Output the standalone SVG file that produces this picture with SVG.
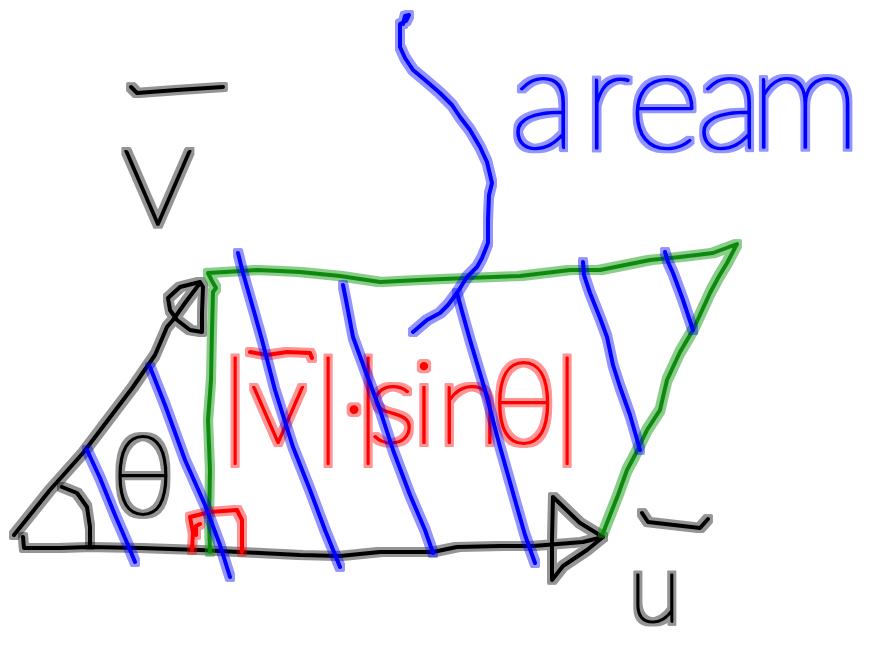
<svg xmlns="http://www.w3.org/2000/svg" width="883" height="646" viewBox="0 0 883 646">
<style>
path{fill:none;stroke-linecap:round;stroke-linejoin:round;stroke-width:4}
text{font-family:Lato,"DejaVu Sans",Inter,sans-serif;font-weight:100;stroke-width:2;stroke-linejoin:round}
.k path{stroke:#000}.k text{fill:#000;stroke:#000}
.g path{stroke:#0b8a0b}
.r path{stroke:#ff0000}.r text{fill:#ff0000;stroke:#ff0000}
.b path{stroke:#0000ff}.b text{fill:#0000ff;stroke:#0000ff}
</style>
<defs>
<filter id="hk" filterUnits="userSpaceOnUse" x="0" y="0" width="883" height="646">
<feMorphology in="SourceAlpha" operator="dilate" radius="3" result="d"/>
<feFlood flood-color="#000000" flood-opacity="0.42"/>
<feComposite in2="d" operator="in" result="h"/>
<feMerge><feMergeNode in="h"/><feMergeNode in="SourceGraphic"/></feMerge>
</filter>
<filter id="hg" filterUnits="userSpaceOnUse" x="0" y="0" width="883" height="646">
<feMorphology in="SourceAlpha" operator="dilate" radius="3" result="d"/>
<feFlood flood-color="#1a9a1a" flood-opacity="0.5"/>
<feComposite in2="d" operator="in" result="h"/>
<feMerge><feMergeNode in="h"/><feMergeNode in="SourceGraphic"/></feMerge>
</filter>
<filter id="hr" filterUnits="userSpaceOnUse" x="0" y="0" width="883" height="646">
<feMorphology in="SourceAlpha" operator="dilate" radius="3" result="d"/>
<feFlood flood-color="#ff0000" flood-opacity="0.42"/>
<feComposite in2="d" operator="in" result="h"/>
<feMerge><feMergeNode in="h"/><feMergeNode in="SourceGraphic"/></feMerge>
</filter>
<filter id="hb" filterUnits="userSpaceOnUse" x="0" y="0" width="883" height="646">
<feMorphology in="SourceAlpha" operator="dilate" radius="3" result="d"/>
<feFlood flood-color="#0000ff" flood-opacity="0.42"/>
<feComposite in2="d" operator="in" result="h"/>
<feMerge><feMergeNode in="h"/><feMergeNode in="SourceGraphic"/></feMerge>
</filter>
</defs>
<rect width="883" height="646" fill="#fff"/>

<g id="vector-u" class="k" filter="url(#hk)">
<path d="M23,537 L24,548 L60,548 L90,547 L140,548 L200,550 L260,553 L300,555 L340,556 L380,552 L433,552 L457,547 L500,546 L533,546 L583,542 L603,537"/>
<path d="M603,537 L580,523 L553,497 L552,540 L552,580 L563,566 L587,550 L603,537"/>
</g>
<g id="vector-v" class="k" filter="url(#hk)">
<path d="M14,535 L50,490 L83,453 L133,387 L155,355 L167,327 L173,320 L185,303 L200,283"/>
<path d="M200,282 L180,287 L168,298 L170,310 L177,320 L190,330 L202,332 L202,313 L203,287 Z"/>
</g>
<g id="angle-arc" class="k" filter="url(#hk)">
<path d="M62,487 L77,493 L87,507 L90,527 L90,545"/>
</g>
<g id="label-v" class="k" filter="url(#hk)">
<path d="M131,87 L137,93 L177,90 L223,87"/>
<text x="158" y="225" font-size="150" text-anchor="middle">v</text>
</g>
<g id="label-u" class="k" filter="url(#hk)">
<path d="M642,513 L648,522 L700,528 L708,519"/>
<text x="655" y="622" font-size="96" text-anchor="middle">u</text>
</g>
<g id="label-theta" class="k" filter="url(#hk)">
<text x="143" y="514" font-size="110" text-anchor="middle">θ</text>
</g>

<g id="parallelogram" class="g" filter="url(#hg)">
<path d="M210,552 L209,520 L210,470 L208,420 L211,380 L212,330 L213,292 L216,288 L212,281 L208,273 L225,272 L257,270 L280,271 L300,272 L340,276 L380,282 L420,280 L467,278 L520,276 L570,270 L600,270 L650,260 L680,257 L713,253 L737,244 L727,263 L718,278 L710,293 L693,330 L680,352 L667,380 L660,410 L647,430 L635,455 L627,470 L618,495 L603,533"/>
</g>

<g id="right-angle" class="r" filter="url(#hr)">
<path d="M192,550 L193,533 L190,517 L210,512 L237,510 L242,520 L242,552"/>
<path d="M196,535 L196,526 L200,524"/>
</g>
<g id="label-height" class="r" filter="url(#hr)">
<path d="M250,352 L267,355 L287,352 L310,353 L312,358"/>
<text y="443" font-size="115" x="222 250 315 341 355 368 412 438 490 554">|v|·|sinθ|</text>
</g>

<g id="hatching" class="b" filter="url(#hb)">
<path d="M87,450 L100,478 L115,515 L128,545 L135,562"/>
<path d="M150,367 L165,405 L185,460 L205,505 L220,545 L230,577"/>
<path d="M238,253 L243,273 L253,308 L262,340 L275,390 L293,447 L310,490 L325,530 L340,567"/>
<path d="M343,285 L346,300 L353,337 L365,370 L380,410 L393,450 L410,495 L425,530 L433,553"/>
<path d="M457,293 L463,315 L470,340 L485,390 L500,447 L515,500 L525,535 L535,563"/>
<path d="M583,262 L584,275 L590,293 L600,318 L607,337 L613,365 L620,387 L630,415 L640,450"/>
<path d="M665,252 L668,262 L673,273 L683,300 L693,330"/>
</g>
<g id="brace" class="b" filter="url(#hb)">
<path d="M403,24 L405,16 L409,15 L406,21 L400,24 L400,47 L405,58 L413,70 L425,80 L440,93 L452,105 L460,117 L470,130 L480,147 L487,162 L492,183 L489,195 L488,220 L488,243 L482,258 L477,267 L467,277 L457,293 L448,305 L440,313 L427,320 L413,332"/>
</g>
<g id="label-area" class="b" filter="url(#hb)">
<text y="148" font-size="140" x="510 583 628 696 750">aream</text>
</g>
</svg>
